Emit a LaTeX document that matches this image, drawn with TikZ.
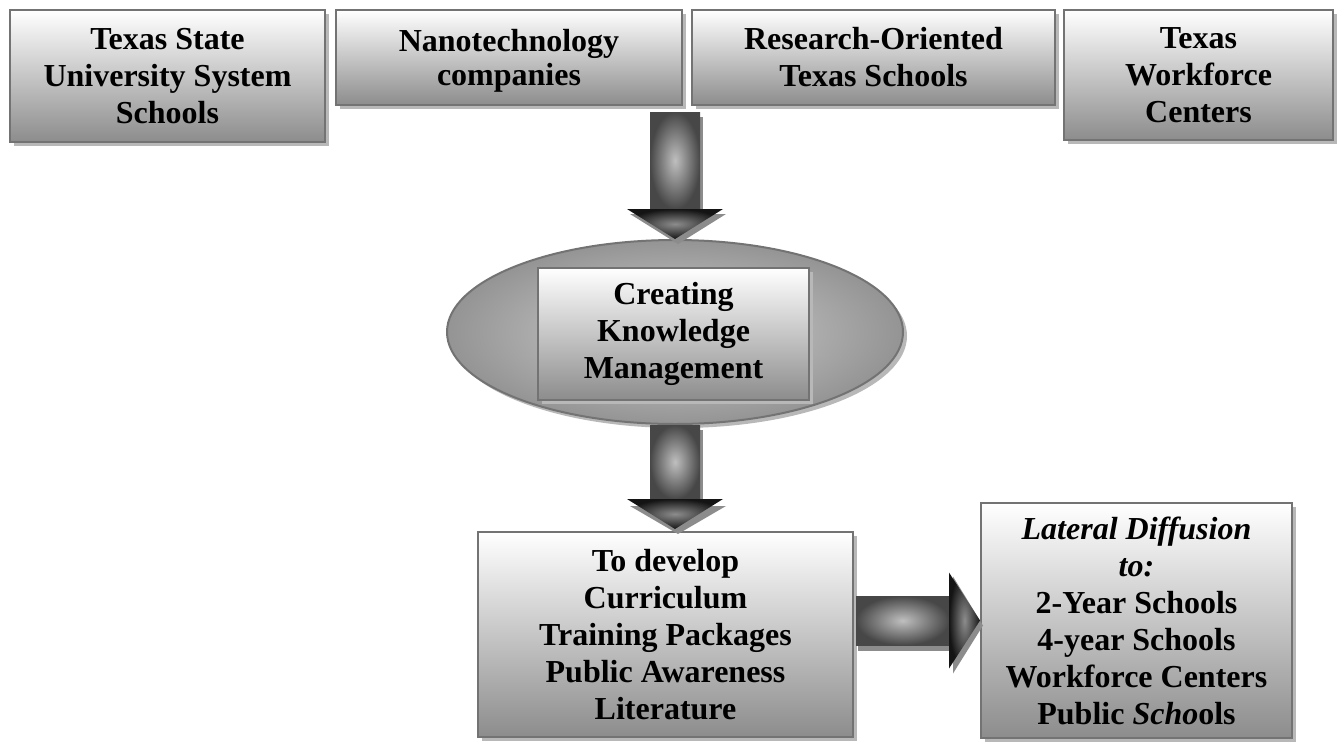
\documentclass[tikz,border=0pt]{standalone}
\usepackage{fontspec}
\setmainfont{Liberation Serif}
\usetikzlibrary{shapes.geometric,shadows,calc}

\tikzset{
  boxshadow/.style={drop shadow={shadow xshift=4pt,shadow yshift=-4pt,opacity=1,fill=black!28}},
  gbox/.style={rectangle, draw=black!55, line width=2pt, top color=white, bottom color=black!45,
    align=center, inner sep=0pt, font=\fontsize{32}{37}\selectfont\bfseries, text=black, boxshadow},
  oval/.style={ellipse, draw=black!55, line width=2pt, inner color=black!18, outer color=black!42,
    inner sep=0pt, boxshadow},
  shaftshade/.style={inner color=black!25, outer color=black!72},
  headshade/.style={inner color=black!45, outer color=black!92},
  arrowshadow/.style={fill=black!45},
}

\begin{document}
\begin{tikzpicture}[x=1pt,y=-1pt]
\useasboundingbox[fill=white] (0,0) rectangle (1338,748);

% source boxes
\node[gbox, minimum width=315pt, minimum height=132pt] (tsu) at (167.5,76)
  {Texas State\\University System\\Schools};
\node[gbox, minimum width=346pt, minimum height=95pt, text depth=0pt] (nano) at (509,57.5)
  {Nanotechnology\\[-3pt]companies};
\node[gbox, minimum width=363pt, minimum height=95pt] (roc) at (873.5,57.5)
  {Research-Oriented\\Texas Schools};
\node[gbox, minimum width=269pt, minimum height=130pt] (twc) at (1198.5,75)
  {Texas\\Workforce\\Centers};

% knowledge management hub
\node[oval, minimum width=456pt, minimum height=184pt] (ke) at (675,332) {};
\node[gbox, minimum width=271pt, minimum height=132pt] (ckm) at (673.5,334)
  {Creating\\Knowledge\\Management};

% outcome boxes
\node[gbox, minimum width=375pt, minimum height=205pt] (dev) at (665.5,634.5)
  {To develop\\Curriculum\\Training Packages\\Public Awareness\\Literature};
\node[gbox, minimum width=311pt, minimum height=235pt] (lat) at (1136.5,620.5)
  {\textit{Lateral Diffusion}\\\textit{to:}\\2-Year Schools\\4-year Schools\\Workforce Centers\\Public \textit{Scho}ols};

% block arrow: sources -> hub
\coordinate (t1) at (ke.north);
\coordinate (s1) at ($(t1)+(0,-127)$);
\fill[arrowshadow] ($(s1)+(-22,5)$) rectangle ($(t1)+(28,-25)$);
\fill[arrowshadow] ($(t1)+(-45,-25)$) -- ($(t1)+(51,-25)$) -- ($(t1)+(3,5)$) -- cycle;
\shade[shaftshade] ($(s1)+(-25,0)$) rectangle ($(t1)+(25,-30)$);
\shade[headshade] ($(t1)+(-48,-30)$) -- ($(t1)+(48,-30)$) -- (t1) -- cycle;

% block arrow: hub -> outcomes
\coordinate (t2) at (ke.south |- dev.north);
\coordinate (s2) at (ke.south);
\fill[arrowshadow] ($(s2)+(-22,5)$) rectangle ($(t2)+(28,-25)$);
\fill[arrowshadow] ($(t2)+(-45,-25)$) -- ($(t2)+(51,-25)$) -- ($(t2)+(3,3)$) -- cycle;
\shade[shaftshade] ($(s2)+(-25,0)$) rectangle ($(t2)+(25,-32)$);
\shade[headshade] ($(t2)+(-48,-32)$) -- ($(t2)+(48,-32)$) -- ($(t2)+(0,-2)$) -- cycle;

% block arrow: outcomes -> lateral diffusion
\coordinate (t3) at (lat.west);
\coordinate (s3) at (dev.east |- lat.west);
\fill[arrowshadow] ($(s3)+(4,-20)$) rectangle ($(t3)+(-28,30)$);
\fill[arrowshadow] ($(t3)+(-27,-44)$) -- ($(t3)+(3,5)$) -- ($(t3)+(-27,53)$) -- cycle;
\shade[shaftshade] ($(s3)+(2,-24.5)$) rectangle ($(t3)+(-31,24.5)$);
\shade[headshade] ($(t3)+(-31,-48)$) -- (t3) -- ($(t3)+(-31,48)$) -- cycle;
\end{tikzpicture}
\end{document}
